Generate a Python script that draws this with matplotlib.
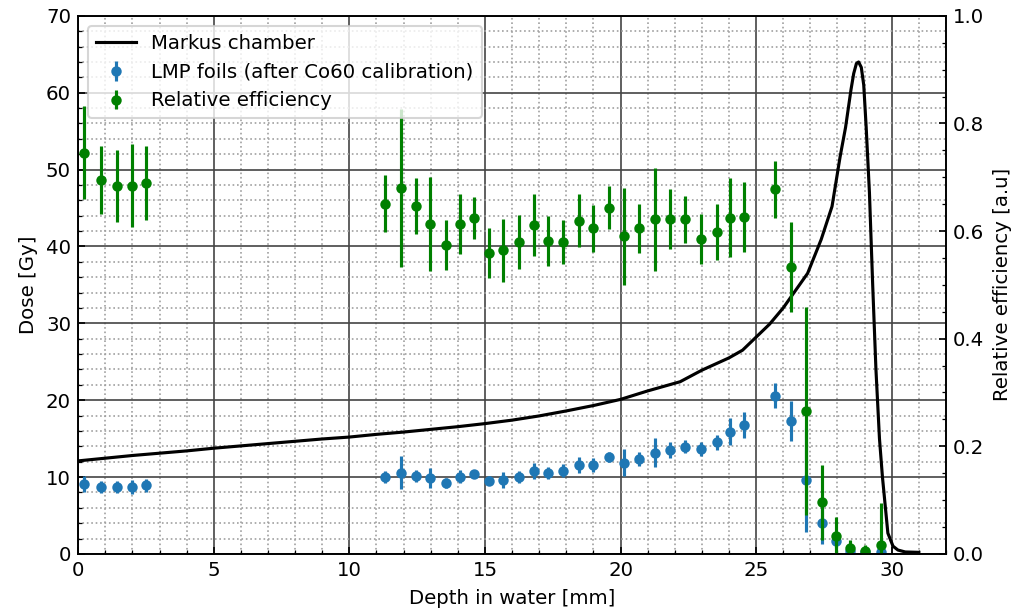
import matplotlib
matplotlib.use('Agg')
import matplotlib.pyplot as plt
from matplotlib.ticker import MultipleLocator

matplotlib.rc('font', size=9.5)

# Markus chamber depth-dose curve
markus_depth = [0, 1, 2, 3, 4, 5, 6, 7, 8, 9, 10, 11, 12, 13, 14, 15, 16, 17, 18, 19, 20,
                21, 22.2, 23, 24, 24.5, 25, 25.5, 26, 26.5, 26.9, 27.4, 27.8, 28.1, 28.3,
                28.5, 28.6, 28.7, 28.78, 28.88, 28.97, 29.06, 29.18, 29.3, 29.42, 29.55,
                29.66, 29.86, 30.05, 30.23, 30.5, 31.0]
markus_dose = [12.1, 12.45, 12.8, 13.1, 13.4, 13.75, 14.05, 14.35, 14.65, 14.95, 15.2,
               15.55, 15.85, 16.2, 16.55, 16.95, 17.4, 17.95, 18.6, 19.3, 20.1,
               21.2, 22.4, 23.9, 25.5, 26.5, 28.2, 29.9, 32.0, 34.5, 36.5, 40.9, 45.2,
               51.7, 55.5, 60.4, 62.5, 63.8, 64.0, 63.3, 61.0, 55.5, 47.0, 35.0, 24.0,
               15.0, 10.0, 2.7, 1.0, 0.5, 0.25, 0.2]

# LMP foil positions
foil_depth = [0.21, 0.84, 1.43, 1.97, 2.50,
              11.33, 11.91, 12.47, 12.99, 13.56, 14.07, 14.61, 15.16, 15.68, 16.25,
              16.81, 17.34, 17.89, 18.47, 18.99, 19.56, 20.13, 20.69, 21.27, 21.83,
              22.39, 22.97, 23.55, 24.05, 24.56,
              25.70, 26.27, 26.85, 27.42, 27.93, 28.47, 29.00, 29.59]

lmp_dose = [9.1, 8.7, 8.7, 8.7, 8.9,
            9.98, 10.58, 10.15, 9.84, 9.28, 10.06, 10.37, 9.54, 9.63, 9.98,
            10.8, 10.5, 10.84, 11.58, 11.58, 12.58, 11.88, 12.36, 13.18, 13.53,
            13.96, 13.62, 14.53, 15.91, 16.78,
            20.6, 17.3, 9.63, 4.0, 1.7, 0.4, 0.3, 0.3]
lmp_err = [1.05, 0.8, 0.8, 0.9, 0.8,
           0.8, 2.2, 0.76, 1.3, 0.65, 0.87, 0.5, 0.6, 1.0, 0.76,
           1.0, 0.8, 0.85, 1.0, 0.87, 0.65, 1.8, 0.9, 1.9, 1.0,
           0.87, 0.9, 1.0, 1.8, 1.7,
           1.6, 2.6, 6.8, 2.7, 0.9, 0.3, 0.3, 0.3]

rel_eff = [0.746, 0.695, 0.684, 0.684, 0.689,
           0.651, 0.680, 0.647, 0.613, 0.574, 0.613, 0.624, 0.559, 0.564, 0.580,
           0.611, 0.582, 0.580, 0.619, 0.605, 0.643, 0.590, 0.605, 0.622, 0.622,
           0.622, 0.585, 0.598, 0.625, 0.627,
           0.678, 0.533, 0.265, 0.096, 0.034, 0.011, 0.006, 0.016]
rel_err = [0.087, 0.064, 0.067, 0.077, 0.069,
           0.053, 0.147, 0.052, 0.087, 0.046, 0.055, 0.039, 0.046, 0.059, 0.050,
           0.057, 0.046, 0.041, 0.049, 0.044, 0.040, 0.090, 0.046, 0.096, 0.056,
           0.044, 0.047, 0.052, 0.073, 0.065,
           0.053, 0.084, 0.193, 0.070, 0.035, 0.015, 0.011, 0.078]

fig, ax = plt.subplots(figsize=(1016 / 150, 610 / 150), dpi=150)
fig.subplots_adjust(left=0.077, right=0.931, top=0.974, bottom=0.092)

l1, = ax.plot(markus_depth, markus_dose, 'k-', label='Markus chamber')
e1 = ax.errorbar(foil_depth, lmp_dose, yerr=lmp_err, fmt='o', color='C0',
                 markersize=4, label='LMP foils (after Co60 calibration)')
ax.set_xlim(0, 32)
ax.set_ylim(0, 70)
ax.set_xlabel('Depth in water [mm]')
ax.set_ylabel('Dose [Gy]')
ax.xaxis.set_major_locator(MultipleLocator(5))
ax.xaxis.set_minor_locator(MultipleLocator(1))
ax.yaxis.set_major_locator(MultipleLocator(10))
ax.yaxis.set_minor_locator(MultipleLocator(2))
ax.tick_params(which='both', direction='in')
ax.grid(which='major', color='#444444', linestyle='-', linewidth=0.8)
ax.grid(which='minor', color='#a0a0a0', linestyle=':', linewidth=0.8)

ax2 = ax.twinx()
e2 = ax2.errorbar(foil_depth, rel_eff, yerr=rel_err, fmt='o', color='g',
                  markersize=4, label='Relative efficiency')
ax2.set_ylim(0, 1.0)
ax2.set_ylabel('Relative efficiency [a.u]')
ax2.yaxis.set_major_locator(MultipleLocator(0.2))
ax2.yaxis.set_minor_locator(MultipleLocator(0.05))
ax2.tick_params(which='both', direction='in')

ax2.legend([l1, e1, e2], [l1.get_label(), e1.get_label(), e2.get_label()],
           loc='upper left')

plt.savefig('out.png', dpi=150)
